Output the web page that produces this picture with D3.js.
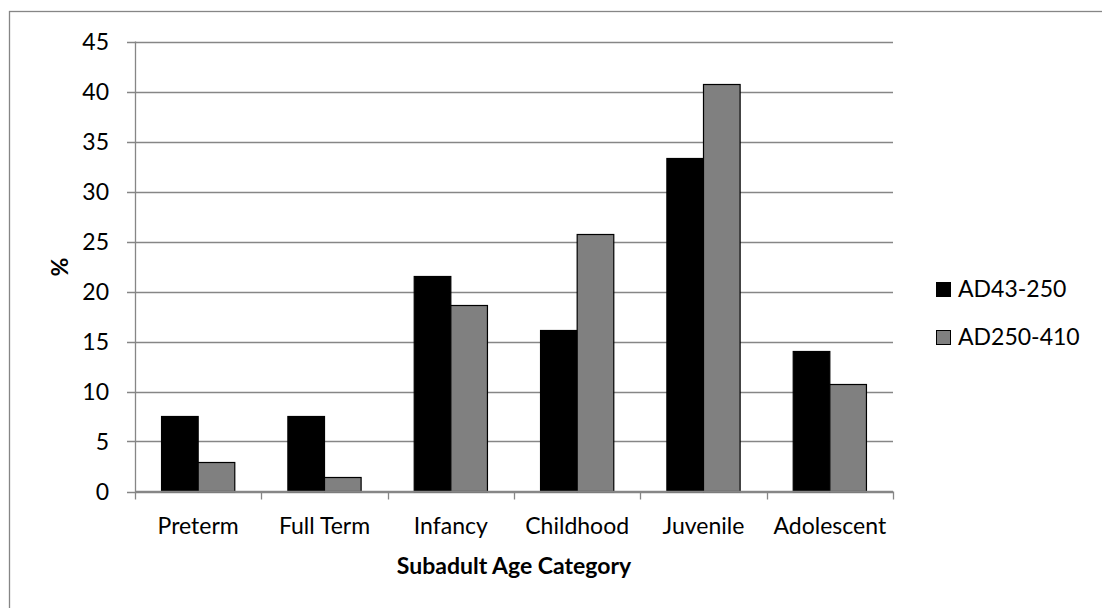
<!DOCTYPE html>
<html>
<head>
<meta charset="utf-8">
<script src="https://cdn.jsdelivr.net/npm/d3@7"></script>
<style>
  html, body { margin: 0; padding: 0; background: #fff; }
  svg text { font-family: Lato, "Open Sans", sans-serif; fill: #000; }
</style>
</head>
<body>
<svg id="chart" width="1102" height="608"></svg>
<script>
const categories = ["Preterm", "Full Term", "Infancy", "Childhood", "Juvenile", "Adolescent"];
const seriesNames = ["AD43-250", "AD250-410"];
const seriesA = [7.5, 7.5, 21.5, 16.1, 33.3, 14.0];
const seriesB = [2.9, 1.4, 18.6, 25.7, 40.7, 10.7];
const yTicks = [0, 5, 10, 15, 20, 25, 30, 35, 40, 45];
const colors = ["#000000", "#808080"];
const xTitle = "Subadult Age Category";
const yTitle = "%";

(function () {
const svg = d3.select("#chart");
const pLeft = 135, pRight = 893, pTop = 41.5, pBottom = 491.5;
const gridColor = "#868686";
const fs = 23;

// chart border
svg.append("rect").attr("x", 9.5).attr("y", 11.5).attr("width", 1120).attr("height", 620)
  .attr("fill", "none").attr("stroke", gridColor).attr("stroke-width", 1.3);

const x0 = d3.scaleBand().domain(categories).range([pLeft, pRight]).paddingInner(0).paddingOuter(0);
const x1 = d3.scaleBand().domain(seriesNames).range([0, x0.bandwidth()]).paddingInner(0).paddingOuter(0.725);
const y = d3.scaleLinear().domain([0, 45]).range([pBottom, pTop]);

// gridlines
svg.append("g").selectAll("line").data(yTicks).join("line")
  .attr("x1", pLeft - 8).attr("x2", pRight)
  .attr("y1", d => Math.round(y(d)) + 0.5).attr("y2", d => Math.round(y(d)) + 0.5)
  .attr("stroke", gridColor).attr("stroke-width", 1.3);

// y tick labels
svg.append("g").selectAll("text").data(yTicks).join("text")
  .attr("x", 109).attr("y", d => y(d) + 8.5)
  .attr("text-anchor", "end").attr("font-size", fs)
  .text(d => d);

// y axis line
svg.append("line").attr("x1", pLeft + 0.5).attr("x2", pLeft + 0.5).attr("y1", pTop).attr("y2", pBottom)
  .attr("stroke", gridColor).attr("stroke-width", 1.3);

// bars
const data = categories.map((c, i) => ({ c, vals: [seriesA[i], seriesB[i]] }));
const groups = svg.append("g").selectAll("g").data(data).join("g")
  .attr("transform", d => `translate(${x0(d.c)},0)`);
groups.selectAll("rect").data(d => d.vals.map((v, j) => ({ v, s: seriesNames[j], j }))).join("rect")
  .attr("x", d => x1(d.s)).attr("width", x1.bandwidth())
  .attr("y", d => y(d.v)).attr("height", d => pBottom - y(d.v))
  .attr("fill", d => colors[d.j]).attr("stroke", "#000").attr("stroke-width", 1.2);

// x axis line and ticks
svg.append("line").attr("x1", pLeft).attr("x2", pRight).attr("y1", pBottom).attr("y2", pBottom)
  .attr("stroke", gridColor).attr("stroke-width", 1.3);
const bounds = categories.map(c => x0(c)).concat([pRight]);
svg.append("g").selectAll("line").data(bounds).join("line")
  .attr("x1", d => Math.round(d) + 0.5).attr("x2", d => Math.round(d) + 0.5)
  .attr("y1", pBottom).attr("y2", pBottom + 8)
  .attr("stroke", gridColor).attr("stroke-width", 1.3);

// x tick labels
svg.append("g").selectAll("text").data(categories).join("text")
  .attr("x", d => x0(d) + x0.bandwidth() / 2).attr("y", 534)
  .attr("text-anchor", "middle").attr("font-size", fs)
  .text(d => d);

// axis titles
svg.append("text").attr("x", (pLeft + pRight) / 2).attr("y", 574).attr("text-anchor", "middle")
  .attr("font-size", fs).attr("font-weight", "bold").text(xTitle);
svg.append("text").attr("transform", "translate(68,267) rotate(-90)")
  .attr("text-anchor", "middle").attr("font-size", fs).attr("font-weight", "bold").text(yTitle);

// legend
const lg = svg.append("g").selectAll("g").data(seriesNames).join("g")
  .attr("transform", (d, i) => `translate(936,${282 + i * 48})`);
lg.append("rect").attr("x", 0.5).attr("y", 0.5).attr("width", 14).attr("height", 14)
  .attr("fill", (d, i) => colors[i]).attr("stroke", "#000").attr("stroke-width", 1);
lg.append("text").attr("x", 22).attr("y", 15).attr("font-size", fs).text(d => d);
})();
</script>
</body>
</html>
